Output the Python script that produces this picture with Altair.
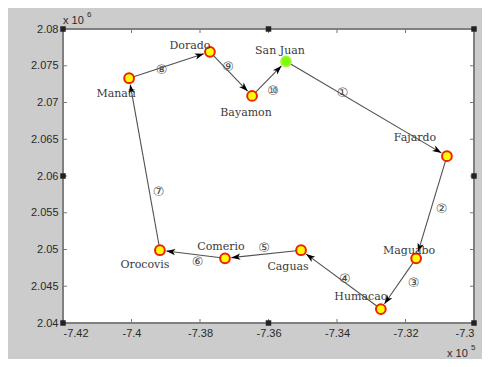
import math
import altair as alt
import pandas as pd

# ---------------- data ----------------
cities = ["San Juan", "Fajardo", "Maguabo", "Humacao", "Caguas",
          "Comerio", "Orocovis", "Manati", "Dorado", "Bayamon"]
x_vals = [-7.3549, -7.3079, -7.3169, -7.3272, -7.3505,
          -7.3727, -7.3917, -7.4007, -7.3771, -7.3648]
y_vals = [2.0756, 2.0627, 2.0488, 2.0419, 2.0499,
          2.0488, 2.0499, 2.0733, 2.0769, 2.0709]
route = [0, 1, 2, 3, 4, 5, 6, 7, 8, 9, 0]
step_labels = ["①", "②", "③", "④", "⑤", "⑥", "⑦", "⑧", "⑨", "⑩"]
x_ticks = [-7.42, -7.40, -7.38, -7.36, -7.34, -7.32, -7.30]
y_ticks = [2.040, 2.045, 2.050, 2.055, 2.060, 2.065, 2.070, 2.075, 2.080]

# ---------------- layout / style ----------------
W, H = 411, 294
XD = [-7.42, -7.30]
YD = [2.04, 2.08]
kx = W / (XD[1] - XD[0])
ky = H / (YD[1] - YD[0])

name_offsets = [(-6, -10), (-32, -18), (-7, -7), (-20, -12), (-13, 17),
                (-4, -11), (-15, 15), (-13, 16), (-20, -6), (-6, 17)]
step_offsets = [(-24, -16), (10, 2), (15, -1), (4, -1), (1, -6),
                (5, 8), (14, 28), (-8, 5), (-3, -7), (4, 12)]

cities_df = pd.DataFrame({"name": cities, "x": x_vals, "y": y_vals,
                          "start": [n == "San Juan" for n in cities]})

rows = []
for k in range(len(route) - 1):
    a, b = route[k], route[k + 1]
    x1, y1, x2, y2 = x_vals[a], y_vals[a], x_vals[b], y_vals[b]
    dxp = (x2 - x1) * kx
    dyp = -(y2 - y1) * ky
    L = math.hypot(dxp, dyp)
    ux, uy = dxp / L, dyp / L
    tip = 6.5          # marker radius in px
    head = 5.0         # arrow head centre behind tip
    tx, ty = x2 - ux * tip / kx, y2 + uy * tip / ky
    hx, hy = x2 - ux * (tip + head) / kx, y2 + uy * (tip + head) / ky
    ang = math.degrees(math.atan2(ux, -uy)) % 360
    rows.append({"x1": x1, "y1": y1, "x2": tx, "y2": ty, "hx": hx, "hy": hy,
                 "ang": ang, "mx": (x1 + x2) / 2, "my": (y1 + y2) / 2,
                 "lab": step_labels[k]})
edges_df = pd.DataFrame(rows)

xs = alt.Scale(domain=XD, nice=False, zero=False)
ys = alt.Scale(domain=YD, nice=False, zero=False)
x_axis = alt.Axis(values=x_ticks, format=".2~f", ticks=False, domain=False,
                  grid=False, labelFont="Liberation Sans", labelFontSize=11,
                  labelColor="#2a2a2a", labelPadding=4, title=None,
                  labelExpr="replace(datum.label, '\u2212', '-')")
y_axis = alt.Axis(values=y_ticks, format=".3~f", ticks=False, domain=False,
                  grid=False, labelFont="Liberation Sans", labelFontSize=11,
                  labelColor="#2a2a2a", labelPadding=5, title=None,
                  labelExpr="replace(datum.label, '\u2212', '-')")


def X(f):
    return alt.X(f, type="quantitative", scale=xs, axis=x_axis)


def Y(f):
    return alt.Y(f, type="quantitative", scale=ys, axis=y_axis)


layers = []

# inward ticks
xt = pd.DataFrame({"v": x_ticks})
yt = pd.DataFrame({"v": y_ticks})
tick_style = dict(color="#777777", strokeWidth=1)
layers.append(alt.Chart(xt).mark_rule(**tick_style).encode(
    x=X("v"), y=alt.value(H), y2=alt.value(H - 4)))
layers.append(alt.Chart(xt).mark_rule(**tick_style).encode(
    x=X("v"), y=alt.value(0), y2=alt.value(4)))
layers.append(alt.Chart(yt).mark_rule(**tick_style).encode(
    y=Y("v"), x=alt.value(0), x2=alt.value(4)))
layers.append(alt.Chart(yt).mark_rule(**tick_style).encode(
    y=Y("v"), x=alt.value(W), x2=alt.value(W - 4)))

# route lines
layers.append(alt.Chart(edges_df).mark_rule(color="#505050", strokeWidth=1.1).encode(
    x=X("x1"), y=Y("y1"), x2="x2", y2="y2"))

# arrow heads
arrow_path = "M0,-1L0.6,0.75L0,0.3L-0.6,0.75Z"
layers.append(alt.Chart(edges_df).mark_point(
    shape=arrow_path, filled=True, color="#000000", size=110, opacity=1).encode(
    x=X("hx"), y=Y("hy"), angle=alt.Angle("ang", type="quantitative", scale=None)))

# city markers
layers.append(alt.Chart(cities_df).mark_point(
    shape="circle", filled=True, size=95, strokeWidth=2, opacity=1).encode(
    x=X("x"), y=Y("y"),
    fill=alt.Fill("start:N", scale=alt.Scale(domain=[False, True],
                                              range=["#ffff00", "#77ff00"]), legend=None),
    stroke=alt.Stroke("start:N", scale=alt.Scale(domain=[False, True],
                                                  range=["#ee2200", "#aaee44"]), legend=None)))

# city names
for i, (dx, dy) in enumerate(name_offsets):
    layers.append(alt.Chart(cities_df.iloc[[i]]).mark_text(
        dx=dx, dy=dy, font="DejaVu Serif", fontSize=11,
        color="#3a3a3a", align="center", baseline="middle").encode(
        x=X("x"), y=Y("y"), text="name:N"))

# step numbers
for i, (dx, dy) in enumerate(step_offsets):
    layers.append(alt.Chart(edges_df.iloc[[i]]).mark_text(
        dx=dx, dy=dy, font="DejaVu Sans", fontSize=13, color="#444444",
        align="center", baseline="middle").encode(
        x=X("mx"), y=Y("my"), text="lab:N"))

# selection handles
hx_vals = [-7.42, -7.36, -7.30]
hy_vals = [2.04, 2.06, 2.08]
hdf = pd.DataFrame([{"x": a, "y": b} for a in hx_vals for b in hy_vals
                    if not (a == -7.36 and b == 2.06)])
layers.append(alt.Chart(hdf).mark_point(
    shape="square", filled=True, color="#222222", size=30, opacity=1).encode(
    x=X("x"), y=Y("y")))

# exponent annotations
one = pd.DataFrame({"a": [0]})
ann = dict(font="Liberation Sans", color="#2a2a2a")
layers.append(alt.Chart(one).mark_text(text="x 10", fontSize=11, align="left",
                                       baseline="alphabetic", **ann).encode(
    x=alt.value(0), y=alt.value(-5)))
layers.append(alt.Chart(one).mark_text(text="6", fontSize=8, align="left",
                                       baseline="alphabetic", **ann).encode(
    x=alt.value(24), y=alt.value(-12)))
layers.append(alt.Chart(one).mark_text(text="x 10", fontSize=11, align="left",
                                       baseline="alphabetic", **ann).encode(
    x=alt.value(384), y=alt.value(328)))
layers.append(alt.Chart(one).mark_text(text="5", fontSize=8, align="left",
                                       baseline="alphabetic", **ann).encode(
    x=alt.value(408), y=alt.value(321)))

chart = alt.layer(*layers).properties(
    width=W, height=H,
    autosize=alt.AutoSizeParams(type="none"),
    padding={"left": 55, "top": 21, "right": 8, "bottom": 36},
    background="#cccccc",
).configure_view(stroke="#808080", strokeWidth=2, fill="#ffffff")

chart.save("out.html", embed_options={"renderer": "svg", "actions": False})
